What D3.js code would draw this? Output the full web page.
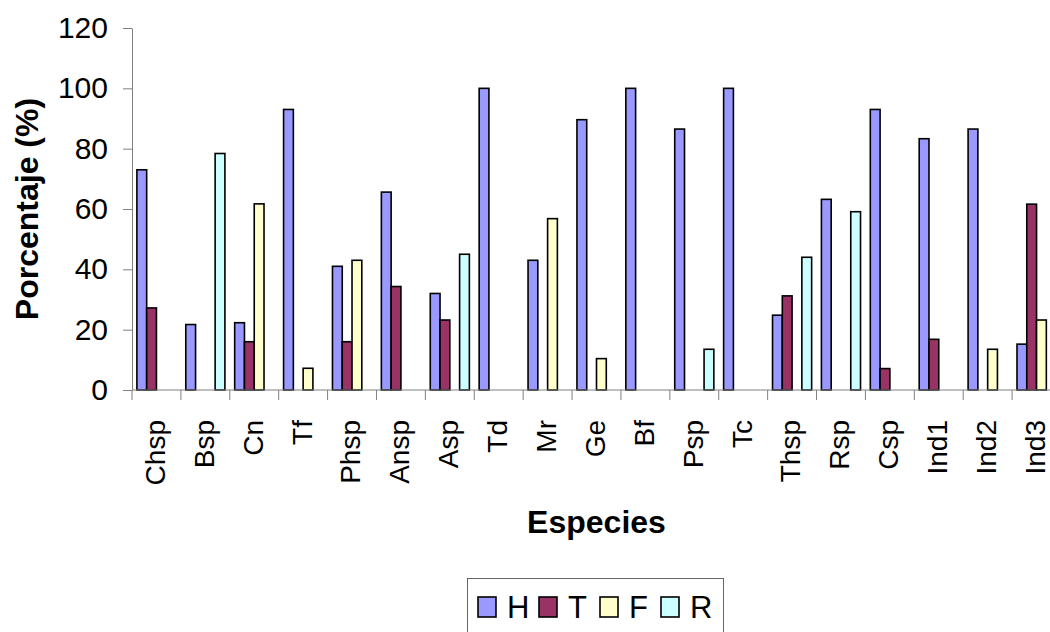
<!DOCTYPE html>
<html>
<head>
<meta charset="utf-8">
<script src="https://cdn.jsdelivr.net/npm/d3@7"></script>
<style>
  body { margin: 0; background: #fff; }
  svg { display: block; font-family: 'Liberation Sans', Arial, sans-serif; }
</style>
</head>
<body>
<div id="chart"></div>
<script>
const species = ['Chsp','Bsp','Cn','Tf','Phsp','Ansp','Asp','Td','Mr','Ge','Bf','Psp','Tc','Thsp','Rsp','Csp','Ind1','Ind2','Ind3'];
const seriesKeys = ['H', 'T', 'F', 'R'];
const H = [73, 21.7, 22.3, 93, 41, 65.6, 32, 100, 43, 89.6, 100, 86.5, 100, 24.8, 63.2, 93, 83.3, 86.5, 15.2];
const T = [27.2, 0, 16, 0, 16, 34.3, 23.2, 0, 0, 0, 0, 0, 0, 31.2, 0, 7.1, 16.8, 0, 61.6];
const F = [0, 0, 61.7, 7.2, 43, 0, 0, 0, 56.8, 10.4, 0, 0, 0, 0, 0, 0, 0, 13.5, 23.2];
const R = [0, 78.4, 0, 0, 0, 0, 45, 0, 0, 0, 0, 13.5, 0, 44, 59.1, 0, 0, 0, 0];
const yTicks = [0, 20, 40, 60, 80, 100, 120];

const seriesValues = { H: H, T: T, F: F, R: R };
const colors = { H: '#9999ff', T: '#993366', F: '#ffffcc', R: '#ccffff' };

const width = 1050, height = 632;
const plot = { left: 132, right: 1061, top: 28, bottom: 390 };

const svg = d3.select('#chart').append('svg')
  .attr('width', width)
  .attr('height', height);

const x = d3.scaleBand()
  .domain(species)
  .range([plot.left, plot.right]);

const xInner = d3.scaleBand()
  .domain(seriesKeys)
  .range([0, x.bandwidth()])
  .paddingInner(0)
  .paddingOuter(0.5);

const y = d3.scaleLinear()
  .domain([0, 120])
  .range([plot.bottom, plot.top]);

// bars
const rows = [];
species.forEach((s, i) => {
  seriesKeys.forEach(k => {
    if (seriesValues[k][i] > 0) rows.push({ sp: s, key: k, value: seriesValues[k][i] });
  });
});

svg.append('g').selectAll('rect')
  .data(rows)
  .enter().append('rect')
  .attr('x', d => x(d.sp) + xInner(d.key))
  .attr('y', d => y(d.value))
  .attr('width', xInner.bandwidth())
  .attr('height', d => y(0) - y(d.value))
  .attr('fill', d => colors[d.key])
  .attr('stroke', '#000')
  .attr('stroke-width', 1.6);

// y axis
const yAxis = svg.append('g')
  .attr('transform', 'translate(' + plot.left + ',0)')
  .call(d3.axisLeft(y).tickValues(yTicks).tickSize(9).tickPadding(15).tickSizeOuter(0));
yAxis.select('.domain').attr('stroke', '#808080');
yAxis.selectAll('.tick line').attr('stroke', '#808080');
yAxis.selectAll('.tick text')
  .attr('font-size', '30px')
  .attr('font-family', "'Liberation Sans', Arial, sans-serif")
  .attr('fill', '#000');

// x axis line and ticks between categories
svg.append('line')
  .attr('x1', plot.left).attr('x2', plot.right)
  .attr('y1', y(0)).attr('y2', y(0))
  .attr('stroke', '#808080');

svg.append('g').selectAll('line')
  .data(species)
  .enter().append('line')
  .attr('x1', d => x(d)).attr('x2', d => x(d))
  .attr('y1', y(0)).attr('y2', y(0) + 10)
  .attr('stroke', '#808080');

svg.append('g').selectAll('text')
  .data(species)
  .enter().append('text')
  .attr('transform', d => 'translate(' + (x(d) + x.bandwidth() / 2) + ',420) rotate(-90)')
  .attr('dy', '0.3em')
  .attr('text-anchor', 'end')
  .attr('font-size', '28px')
  .text(d => d);

// axis titles
svg.append('text')
  .attr('x', (plot.left + plot.right) / 2)
  .attr('y', 533)
  .attr('text-anchor', 'middle')
  .attr('font-size', '32px')
  .attr('font-weight', 'bold')
  .text('Especies');

svg.append('text')
  .attr('transform', 'translate(38,' + ((plot.top + plot.bottom) / 2) + ') rotate(-90)')
  .attr('text-anchor', 'middle')
  .attr('font-size', '32px')
  .attr('font-weight', 'bold')
  .text('Porcentaje (%)');

// legend
const legend = svg.append('g');
legend.append('rect')
  .attr('x', 467.5).attr('y', 578.5)
  .attr('width', 256).attr('height', 60)
  .attr('fill', '#fff')
  .attr('stroke', '#666');

const items = legend.selectAll('g.item')
  .data(seriesKeys)
  .enter().append('g')
  .attr('class', 'item')
  .attr('transform', (d, i) => 'translate(' + (478 + i * 61) + ',0)');

items.append('rect')
  .attr('x', 0).attr('y', 597)
  .attr('width', 18).attr('height', 20)
  .attr('fill', d => colors[d])
  .attr('stroke', '#000')
  .attr('stroke-width', 1.6);

items.append('text')
  .attr('x', 29).attr('y', 618)
  .attr('font-size', '31px')
  .text(d => d);
</script>
</body>
</html>
